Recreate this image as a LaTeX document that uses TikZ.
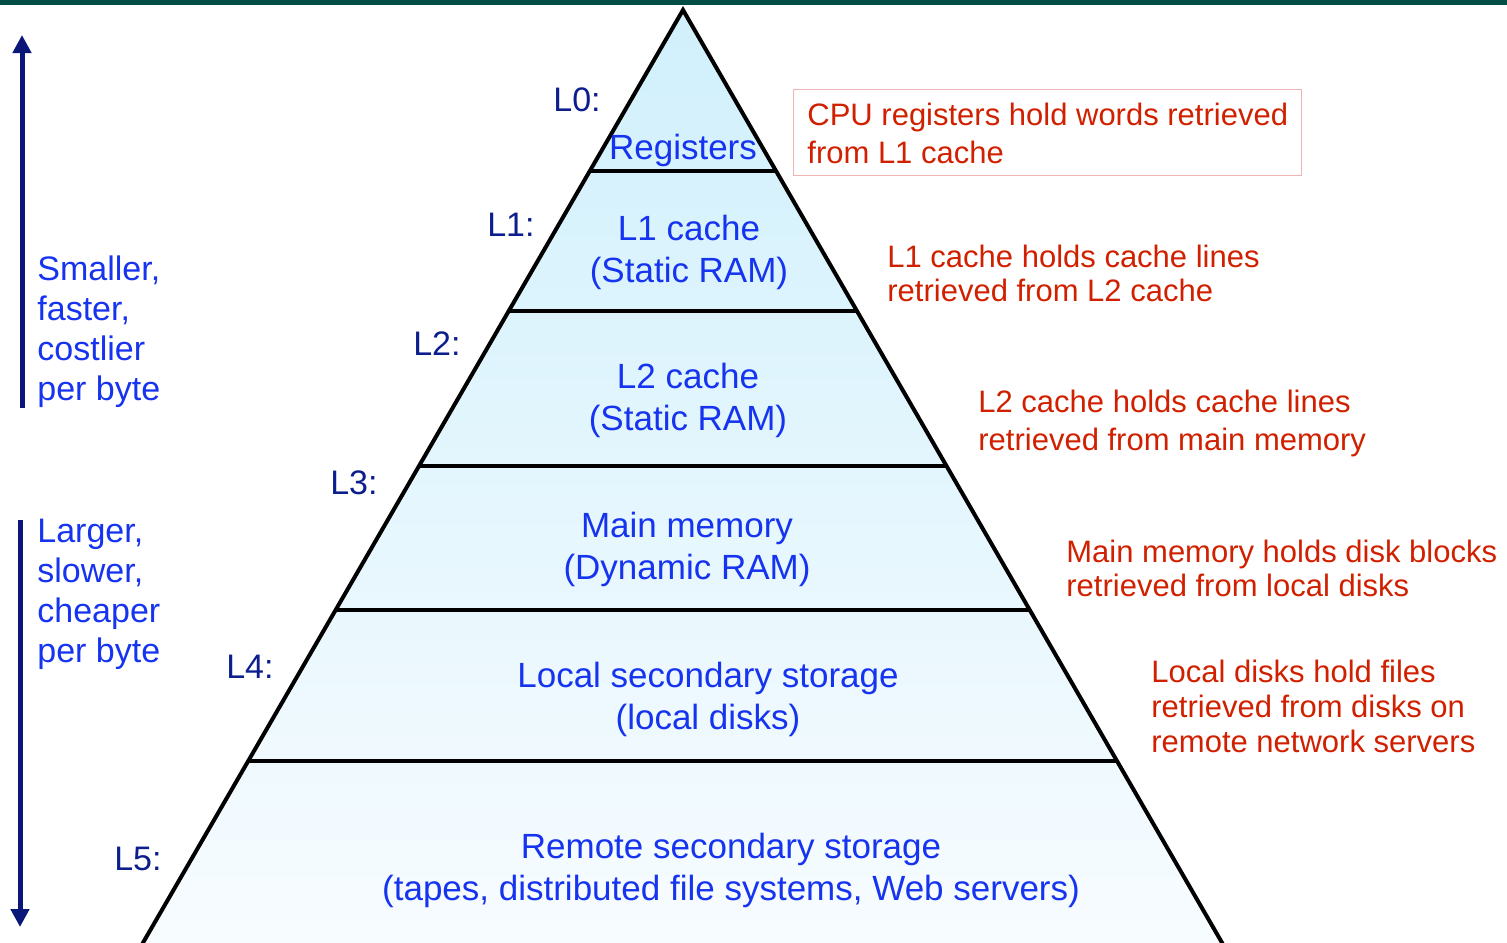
\documentclass[tikz,border=0pt]{standalone}
\usepackage{fontspec}
\setmainfont{Liberation Sans}
\usetikzlibrary{calc,arrows.meta}
\definecolor{topbar}{RGB}{0,77,69}
\definecolor{tierblue}{RGB}{22,52,240}
\definecolor{lvlblue}{RGB}{12,30,140}
\definecolor{arrowblue}{RGB}{10,22,120}
\definecolor{notered}{RGB}{208,32,0}
\definecolor{boxred}{RGB}{240,180,180}
\definecolor{filltop}{RGB}{208,240,252}
\definecolor{fillbot}{RGB}{248,252,255}
\begin{document}
\begin{tikzpicture}[x=0.5pt,y=-0.5pt,
  lvl/.style={anchor=east,inner sep=0pt,text=lvlblue,font=\fontsize{17}{20}\selectfont},
  tier/.style={align=center,inner sep=0pt,text=tierblue,font=\fontsize{17.5}{21}\selectfont},
  side/.style={anchor=west,align=left,inner sep=0pt,text=tierblue,font=\fontsize{17}{20}\selectfont},
  note/.style={anchor=west,align=left,inner sep=0pt,text=notered,font=\fontsize{15.5}{18}\selectfont},
  bigarrow/.style={line width=2.5pt,draw=arrowblue,-{Triangle[width=9pt,length=9pt]}}]
\useasboundingbox (0,0) rectangle (1507,942);
\clip (0,0) rectangle (1507,942);

\coordinate (apex) at (683,10);
\coordinate (bl) at (133,960);
\coordinate (br) at (1232,960);

\path[top color=filltop,bottom color=fillbot] (apex) -- (bl) -- (br) -- cycle;
\foreach \t in {0.1695,0.3168,0.48,0.6316,0.7905}
  \draw[line width=1.8pt] ($(apex)!\t!(bl)$) -- ($(apex)!\t!(br)$);
\draw[line width=2pt,line join=miter] (bl) -- (apex) -- (br);

\fill[topbar] (0,0) rectangle (1507,5);

\node[tier] (reg) at (683,150) {Registers};
\node[tier] (l1) at (689,252) {L1 cache\\(Static RAM)};
\node[tier] (l2) at (688,400) {L2 cache\\(Static RAM)};
\node[tier] (mem) at (687,549) {Main memory\\(Dynamic RAM)};
\node[tier] (disk) at (708,699) {Local secondary storage\\(local disks)};
\node[tier] (remote) at (731,870) {Remote secondary storage\\(tapes, distributed file systems, Web servers)};

\node[lvl] (L0) at (601,100) {L0:};
\node[lvl] (L1) at (535,225) {L1:};
\node[lvl] (L2) at (461,344) {L2:};
\node[lvl] (L3) at (378,483) {L3:};
\node[lvl] (L4) at (274,667) {L4:};
\node[lvl] (L5) at (162,859) {L5:};

\node[draw=boxred,line width=0.7pt,anchor=north west,inner sep=0pt,
  minimum width=254pt,minimum height=43pt] (cpubox) at (793,89) {};
\node[note,font=\fontsize{15.5}{19}\selectfont] (cpunote) at (807,133) {CPU registers hold words retrieved\\from L1 cache};
\node[note,font=\fontsize{15.5}{17}\selectfont] (l1note) at (887,273) {L1 cache holds cache lines\\retrieved from L2 cache};
\node[note,font=\fontsize{15.5}{19}\selectfont] (l2note) at (978,423) {L2 cache holds cache lines\\retrieved from main memory};
\node[note,font=\fontsize{15.5}{17}\selectfont] (memnote) at (1066,568) {Main memory holds disk blocks\\retrieved from local disks};
\node[note,font=\fontsize{15.5}{17.5}\selectfont] (disknote) at (1151,706) {Local disks hold files\\retrieved from disks on\\remote network servers};

\node[side] (fast) at (37,332) {Smaller,\\faster,\\costlier\\per byte};
\node[side] (slow) at (37,594) {Larger,\\slower,\\cheaper\\per byte};

\coordinate (upfrom) at (22,408);
\coordinate (upto) at (22,35);
\coordinate (downfrom) at (20,520);
\coordinate (downto) at (20,927);
\path[bigarrow] (upfrom) -- (upto);
\path[bigarrow] (downfrom) -- (downto);
\end{tikzpicture}
\end{document}
